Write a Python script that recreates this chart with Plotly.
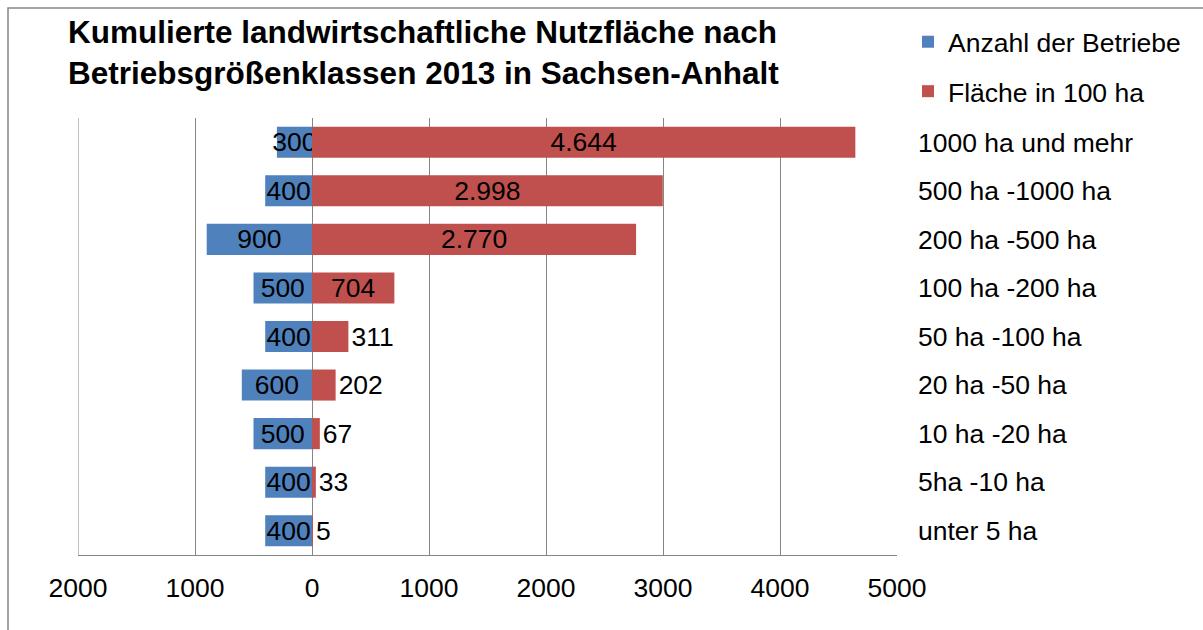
import plotly.graph_objects as go

# ---------------------------------------------------------------------------
# DATA
# ---------------------------------------------------------------------------
KLASSEN = [
    "1000 ha und mehr",
    "500 ha -1000 ha",
    "200 ha -500 ha",
    "100 ha -200 ha",
    "50 ha -100 ha",
    "20 ha -50 ha",
    "10 ha -20 ha",
    "5ha -10 ha",
    "unter 5 ha",
]
BETRIEBE = [300, 400, 900, 500, 400, 600, 500, 400, 400]
FLAECHE_100HA = [4644, 2998, 2770, 704, 311, 202, 67, 33, 5]

X_TICKS = [-2000, -1000, 0, 1000, 2000, 3000, 4000, 5000]
X_TICK_LABELS = ["2000", "1000", "0", "1000", "2000", "3000", "4000", "5000"]

TITLE = ("Kumulierte landwirtschaftliche Nutzfläche nach<br>"
         "Betriebsgrößenklassen 2013 in Sachsen-Anhalt")

# ---------------------------------------------------------------------------
# STYLE
# ---------------------------------------------------------------------------
W, H = 1203, 630
M_L, M_R, M_T, M_B = 78, 306, 118, 75
PLOT_W = W - M_L - M_R
PLOT_H = H - M_T - M_B

BLUE = "#4F81BD"
RED = "#C0504D"
GRID = "#868686"
FONT = "Liberation Sans, Arial, sans-serif"
FS = 26.5


def px_x(px):
    return (px - M_L) / PLOT_W


def px_y(py):
    return (H - M_B - py) / PLOT_H


def de_num(v):
    return f"{v:,}".replace(",", ".")


fig = go.Figure()

fig.add_trace(
    go.Bar(
        y=KLASSEN,
        x=[-v for v in BETRIEBE],
        orientation="h",
        name="Anzahl der Betriebe",
        legendgroup="a",
        marker=dict(color=BLUE, line=dict(width=0)),
        text=[str(v) for v in BETRIEBE],
        textposition="inside",
        insidetextanchor="middle",
        constraintext="none",
        cliponaxis=False,
        textangle=0,
        insidetextfont=dict(color="black", size=FS, family=FONT),
    )
)

fig.add_trace(
    go.Bar(
        y=KLASSEN,
        x=FLAECHE_100HA,
        orientation="h",
        name="Fläche in 100 ha",
        legendgroup="b",
        marker=dict(color=RED, line=dict(width=0)),
        text=[de_num(v) for v in FLAECHE_100HA],
        textposition=["inside" if v >= 500 else "outside" for v in FLAECHE_100HA],
        insidetextanchor="middle",
        constraintext="none",
        cliponaxis=False,
        textangle=0,
        insidetextfont=dict(color="black", size=FS, family=FONT),
        outsidetextfont=dict(color="black", size=FS, family=FONT),
    )
)

fig.update_layout(
    width=W,
    height=H,
    margin=dict(l=M_L, r=M_R, t=M_T, b=M_B, pad=0),
    paper_bgcolor="white",
    plot_bgcolor="white",
    font=dict(family=FONT, size=FS, color="black"),
    barmode="relative",
    bargap=0.36,
    xaxis=dict(
        range=[X_TICKS[0], X_TICKS[-1]],
        tickvals=X_TICKS,
        ticktext=X_TICK_LABELS,
        showgrid=True,
        gridcolor=GRID,
        gridwidth=1,
        zeroline=True,
        zerolinecolor=GRID,
        zerolinewidth=1,
        showline=True,
        linecolor=GRID,
        linewidth=1,
        ticks="",
        ticklabelstandoff=9,
        fixedrange=True,
    ),
    yaxis=dict(
        autorange="reversed",
        side="right",
        showgrid=False,
        zeroline=False,
        showline=False,
        ticks="",
        ticklabelstandoff=20,
        fixedrange=True,
    ),
    showlegend=True,
    legend=dict(
        x=px_x(908),
        y=px_y(18),
        xanchor="left",
        yanchor="top",
        traceorder="grouped",
        tracegroupgap=12,
        font=dict(size=FS, family=FONT),
        itemwidth=30,
        bgcolor="rgba(0,0,0,0)",
    ),
    annotations=[
        dict(
            text=TITLE,
            xref="paper",
            yref="paper",
            x=px_x(66),
            y=px_y(12),
            xanchor="left",
            yanchor="top",
            align="left",
            showarrow=False,
            font=dict(size=31.5, family=FONT, color="black", weight="bold"),
        )
    ],
    shapes=[
        # outer chart border (runs off the right and bottom edges)
        dict(
            type="rect",
            xref="paper",
            yref="paper",
            x0=px_x(8),
            x1=px_x(W + 20),
            y0=px_y(H + 20),
            y1=px_y(8),
            line=dict(color=GRID, width=1.5),
            layer="below",
        ),
        # plotly drops the grid line at the left range edge, redraw it
        dict(
            type="line",
            xref="x",
            yref="paper",
            x0=X_TICKS[0],
            x1=X_TICKS[0],
            y0=0,
            y1=1,
            line=dict(color=GRID, width=1),
            layer="below",
        ),
    ],
)

# the page body has a default 8px margin; drop it so the figure sits at 0,0
fig.write_html(
    "out.html",
    config={"displayModeBar": False},
    post_script="document.body.style.margin='0';",
)
